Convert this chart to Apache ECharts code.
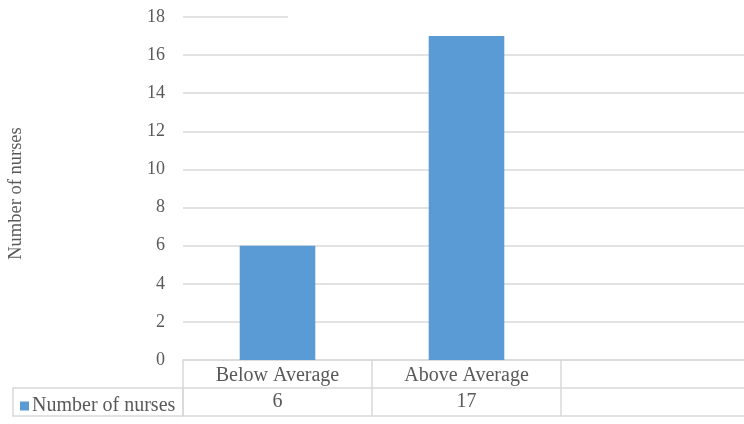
<!DOCTYPE html>
<html>
<head>
<meta charset="utf-8">
<script src="https://cdn.jsdelivr.net/npm/echarts@6/dist/echarts.min.js"></script>
<style>html,body{margin:0;padding:0;background:#fff;}#c{width:744px;height:424px;}</style>
</head>
<body>
<div id="c"></div>
<script>
const categories = ['Below Average', 'Above Average', ''];
const seriesName = 'Number of nurses';
const values = [6, 17, null];
const yTicks = { min: 0, max: 18, interval: 2 };

const FONT = "'Liberation Serif', 'Times New Roman', serif";
const TXT = '#595959';
const LINE = '#D9D9D9';

const chart = echarts.init(document.getElementById('c'));
chart.setOption({
  animation: false,
  textStyle: { fontFamily: FONT },
  grid: { left: 183, right: -6, top: 17, bottom: 64, containLabel: false, outerBoundsMode: 'none' },
  legend: {
    data: [seriesName], left: 15, top: 391, icon: 'rect', itemWidth: 9, itemHeight: 9, itemGap: 0,
    textStyle: { fontFamily: FONT, fontSize: 20, color: TXT, padding: [0, 0, 0, -2] }
  },
  xAxis: [
    {
      type: 'category', data: categories, position: 'bottom',
      axisLine: { lineStyle: { color: LINE, width: 1.5 } },
      axisTick: { show: true, length: 56, lineStyle: { color: LINE, width: 1.5 } },
      axisLabel: { fontFamily: FONT, fontSize: 20, color: TXT, margin: 16, verticalAlign: 'middle', interval: 0 }
    },
    {
      type: 'category', data: values.map(v => v == null ? '' : String(v)), position: 'bottom', offset: 28,
      axisLine: { lineStyle: { color: LINE, width: 1.5 } },
      axisTick: { show: false },
      axisLabel: { fontFamily: FONT, fontSize: 20, color: TXT, margin: 14, verticalAlign: 'middle', interval: 0 }
    },
    {
      type: 'category', data: categories, position: 'bottom', offset: 56,
      axisLine: { lineStyle: { color: LINE, width: 1.5 } },
      axisTick: { show: false }, axisLabel: { show: false }
    }
  ],
  yAxis: {
    type: 'value', min: yTicks.min, max: yTicks.max, interval: yTicks.interval,
    name: seriesName, nameLocation: 'middle', nameRotate: 90, nameGap: 157,
    nameTextStyle: { fontFamily: FONT, fontSize: 18.5, color: TXT, padding: [0, 0, 0, -10] },
    axisLine: { show: false }, axisTick: { show: false },
    axisLabel: { fontFamily: FONT, fontSize: 18, color: TXT, margin: 18 },
    splitLine: { lineStyle: { color: LINE, width: 1.5 } }
  },
  series: [{
    name: seriesName, type: 'bar', xAxisIndex: 0, data: values, barWidth: '40%',
    itemStyle: { color: '#5B9BD5' }
  }],
  graphic: [
    { type: 'rect', shape: { x: 13, y: 388, width: 170, height: 28 }, style: { fill: 'none', stroke: LINE, lineWidth: 1.5 }, z: 10 },
    { type: 'rect', shape: { x: 288, y: 12, width: 470, height: 10 }, style: { fill: '#fff' }, z: 10 }
  ]
});
</script>
</body>
</html>
